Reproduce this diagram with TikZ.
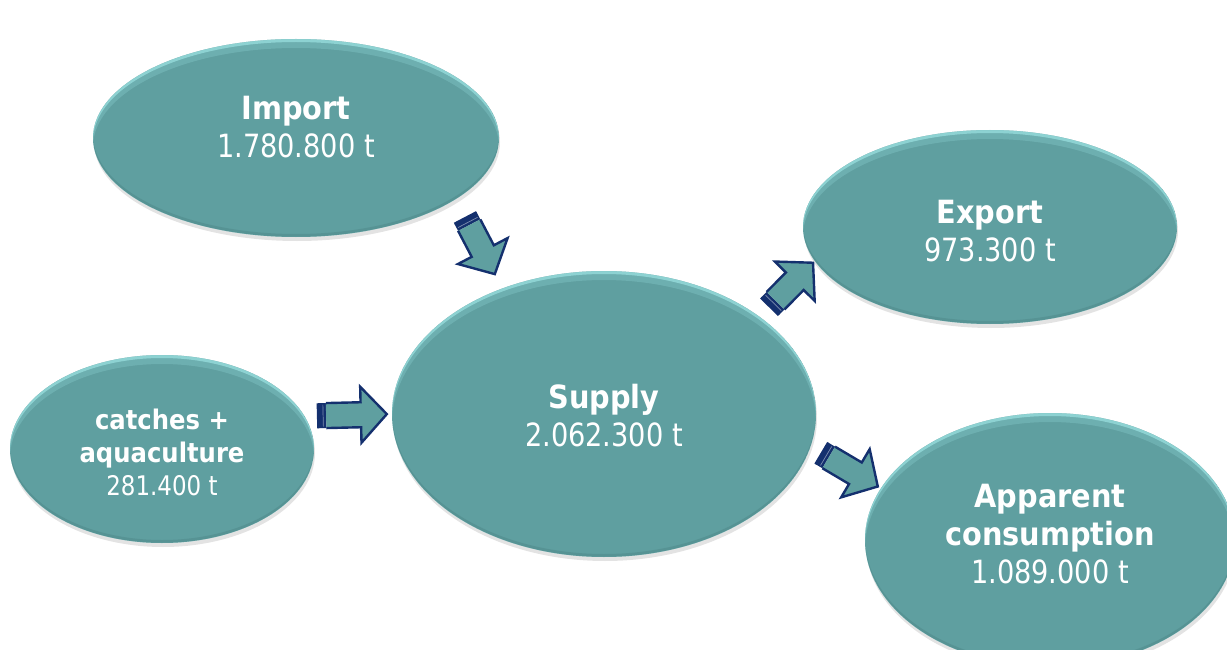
\documentclass[tikz,border=0pt]{standalone}
\usepackage{fontspec}
\setmainfont{DejaVu Sans}[FakeStretch=0.85, BoldFeatures={FakeStretch=0.9}]
\usetikzlibrary{shapes, shadows, calc}

\definecolor{tealfill}{HTML}{5F9FA0}
\definecolor{tealrim}{HTML}{A8F0F0}
\definecolor{tealdark}{HTML}{44797B}
\definecolor{navy}{HTML}{14306E}

\tikzset{
	blob/.style 2 args={ellipse, minimum width=2*#1pt, minimum height=2*#2pt, inner sep=0pt, fill=tealfill,
		drop shadow={shadow xshift=1pt, shadow yshift=-4pt, opacity=.22},
		path picture={
			\fill[tealrim, opacity=.55, even odd rule] (path picture bounding box.center) ellipse [x radius=#1pt, y radius=#2pt] ([yshift=-3pt]path picture bounding box.center) ellipse [x radius=#1pt, y radius=#2pt];
			\fill[tealrim, opacity=.2, even odd rule] (path picture bounding box.center) ellipse [x radius=#1pt, y radius=#2pt] ([yshift=-9pt]path picture bounding box.center) ellipse [x radius=#1pt, y radius=#2pt];
			\fill[tealdark, opacity=.3, even odd rule] (path picture bounding box.center) ellipse [x radius=#1pt, y radius=#2pt] ([yshift=3pt]path picture bounding box.center) ellipse [x radius=#1pt, y radius=#2pt];
		}},
	lbl/.style={text=white, align=center, font=\fontsize{32}{38}\selectfont},
	arrowbody/.style={fill=tealfill, draw=navy, line width=2.4pt, line join=miter},
}

% block arrow from #1 (tail) to #2 (tip)
\newcommand\flowarrow[2]{%
	\coordinate (hd) at ($(#2)!26pt!(#1)$);
	\coordinate (bd) at ($(#1)!8pt!(#2)$);
	\coordinate (ln) at ($(#1)!5pt!(#2)$);
	\fill[black, opacity=.12, xshift=-2pt, yshift=-3pt] ($(#1)!12.5pt!90:(#2)$) -- ($(hd)!12.5pt!90:(#2)$) -- ($(hd)!28pt!90:(#2)$) -- (#2) -- ($(hd)!28pt!-90:(#2)$) -- ($(hd)!12.5pt!-90:(#2)$) -- ($(#1)!12.5pt!-90:(#2)$) -- cycle;
	\fill[navy] ($(#1)!12.5pt!90:(#2)$) -- ($(bd)!12.5pt!90:(#2)$) -- ($(bd)!12.5pt!-90:(#2)$) -- ($(#1)!12.5pt!-90:(#2)$) -- cycle;
	\draw[arrowbody] ($(bd)!12.5pt!90:(#2)$) -- ($(hd)!12.5pt!90:(#2)$) -- ($(hd)!28pt!90:(#2)$) -- (#2) -- ($(hd)!28pt!-90:(#2)$) -- ($(hd)!12.5pt!-90:(#2)$) -- ($(bd)!12.5pt!-90:(#2)$);
	\draw[navy, line width=2.4pt, line join=miter] ($(#1)!12.5pt!90:(#2)$) -- ($(#1)!12.5pt!-90:(#2)$);
	\draw[white, opacity=.45, line width=.7pt] ($(ln)!11pt!90:(#2)$) -- ($(ln)!11pt!-90:(#2)$);
}

\begin{document}
\begin{tikzpicture}[x=1pt, y=-1pt]
	\useasboundingbox (0,0) rectangle (1227,650);

	% ellipses
	\node[blob={203}{99}] (imp) at (296,138) {};
	\node[blob={152}{94}] (cat) at (162,449) {};
	\node[blob={212}{143}] (sup) at (604,414) {};
	\node[blob={187}{97}] (exp) at (990,227) {};
	\node[blob={185}{127}] (app) at (1050,540) {};

	% texts
	\node[lbl] (imp-t) at (296,127) {\textbf{Import}\\1.780.800 t};
	\node[lbl, font=\fontsize{27}{33}\selectfont] (cat-t) at (162,452) {\textbf{catches +}\\\textbf{aquaculture}\\281.400 t};
	\node[lbl] (sup-t) at (604,416) {\textbf{Supply}\\2.062.300 t};
	\node[lbl] (exp-t) at (990,231) {\textbf{Export}\\973.300 t};
	\node[lbl] (app-t) at (1050,534) {\textbf{Apparent}\\\textbf{consumption}\\1.089.000 t};

	% arrows
	\path (imp.-21.5) -- coordinate[pos=.21] (imp-a) coordinate[pos=.84] (imp-b) (sup.129.7);
	\path (cat.13) -- coordinate[pos=.155] (cat-a) coordinate[pos=.943] (cat-b) (sup.180);
	\path (sup.32) -- coordinate[pos=.185] (exp-a) coordinate[pos=.97] (exp-b) (exp.191.9);
	\path (sup.-9.5) -- coordinate[pos=.16] (app-a) coordinate[pos=.957] (app-b) (app.163.5);
	\flowarrow{imp-a}{imp-b}
	\flowarrow{cat-a}{cat-b}
	\flowarrow{exp-a}{exp-b}
	\flowarrow{app-a}{app-b}
\end{tikzpicture}
\end{document}
